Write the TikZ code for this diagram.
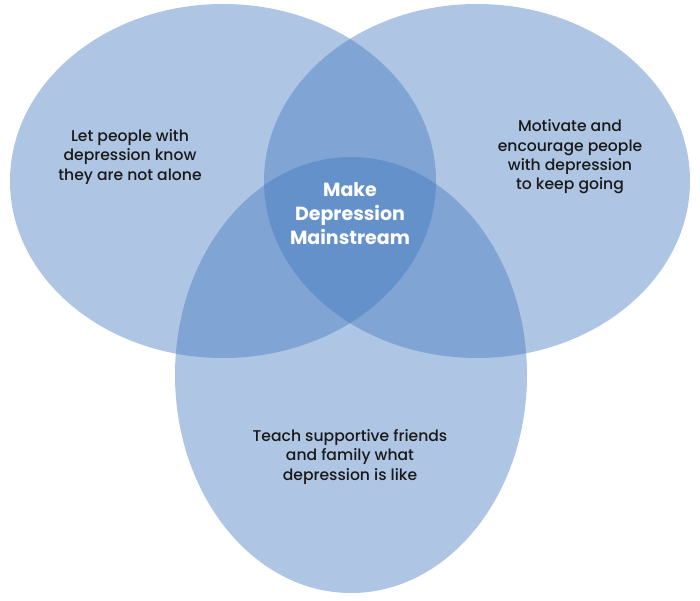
\documentclass[tikz,border=0pt]{standalone}
\usepackage{fontspec}
\setmainfont{Poppins}
\newfontfamily\medfont{Poppins Medium}
\definecolor{venn}{RGB}{63,118,189}
\begin{document}
\begin{tikzpicture}[x=1pt,y=-1pt,
  circ/.style={fill=venn,fill opacity=0.42,draw=none},
  lbl/.style={align=center,font=\medfont\fontsize{15.6}{19.3}\selectfont,text=black!90},
  ctr/.style={align=center,font=\fontsize{19}{24}\selectfont\bfseries,text=white}]
\useasboundingbox (0,0) rectangle (700,601);
\fill[circ] (223,181) ellipse [x radius=213,y radius=177];
\fill[circ] (477,181) ellipse [x radius=213,y radius=177];
\fill[circ] (351,375) ellipse [x radius=176,y radius=218];
\node[lbl] (l) at (130,157) {Let people with\\depression know\\they are not alone};
\node[lbl] (r) at (570,157) {Motivate and\\encourage people\\with depression\\to keep going};
\node[lbl] (b) at (350,457) {Teach supportive friends\\and family what\\depression is like};
\node[ctr] (c) at (350,214) {Make\\Depression\\Mainstream};
\end{tikzpicture}
\end{document}
